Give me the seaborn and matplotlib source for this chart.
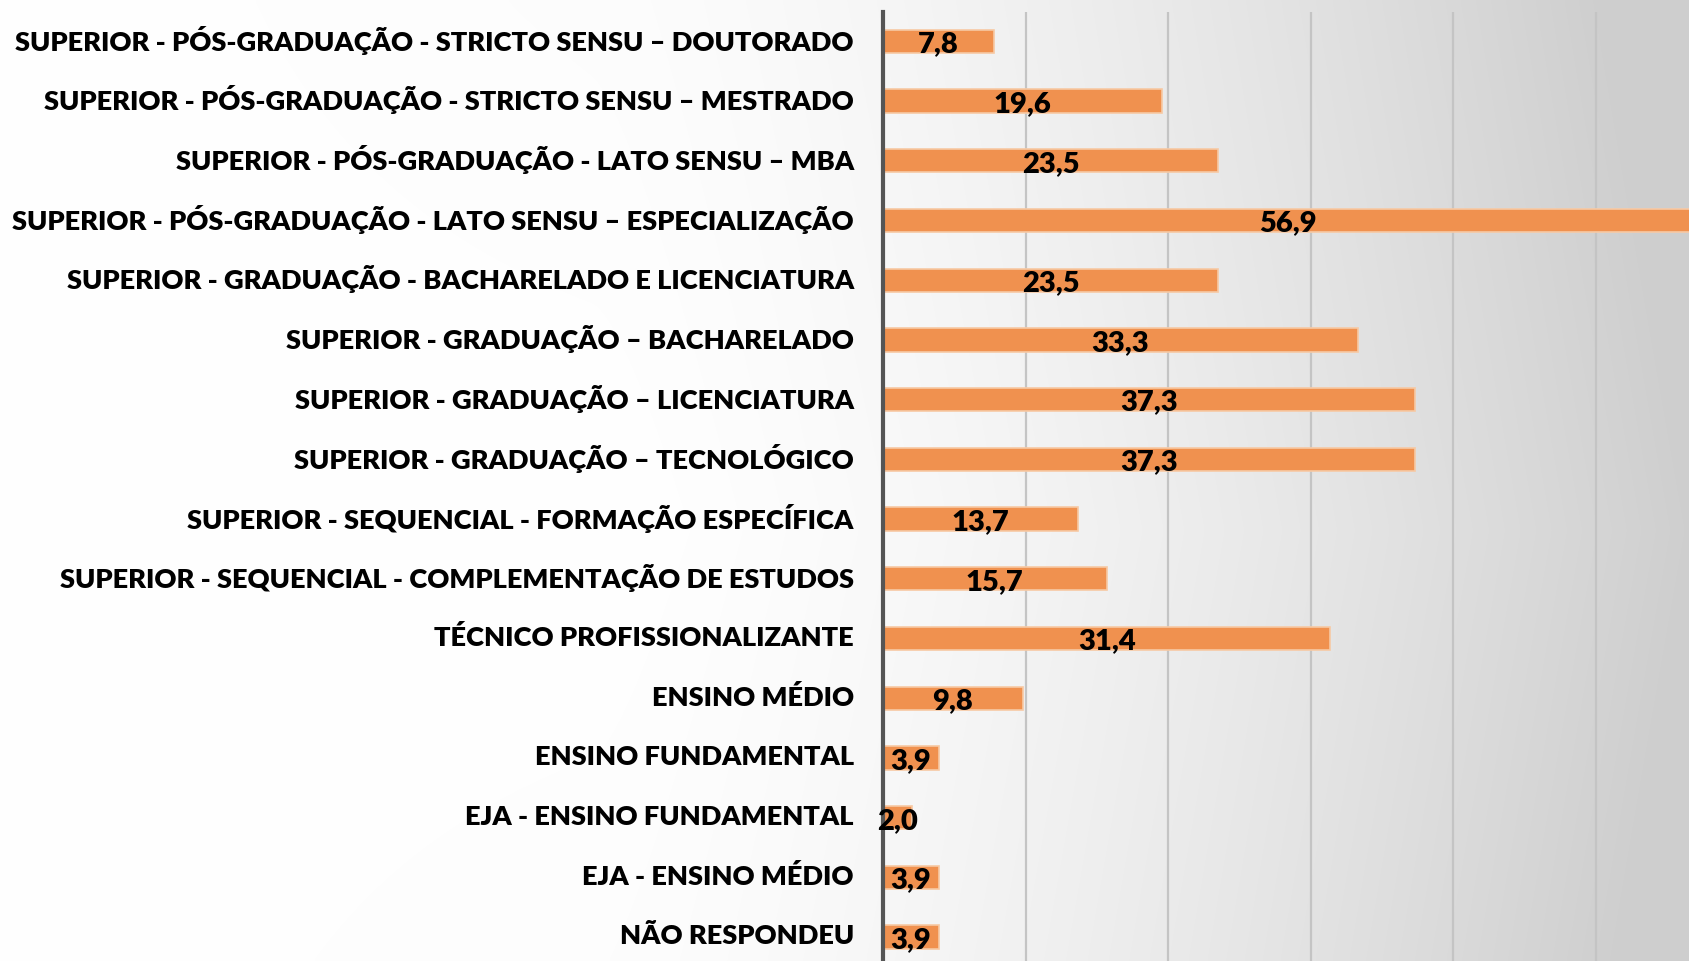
import numpy as np
import matplotlib
matplotlib.use('Agg')
import matplotlib.pyplot as plt
import matplotlib.transforms as mtransforms
import seaborn as sns

categories = [
    'SUPERIOR - PÓS-GRADUAÇÃO - STRICTO SENSU – DOUTORADO',
    'SUPERIOR - PÓS-GRADUAÇÃO - STRICTO SENSU – MESTRADO',
    'SUPERIOR - PÓS-GRADUAÇÃO - LATO SENSU – MBA',
    'SUPERIOR - PÓS-GRADUAÇÃO - LATO SENSU – ESPECIALIZAÇÃO',
    'SUPERIOR - GRADUAÇÃO - BACHARELADO E LICENCIATURA',
    'SUPERIOR - GRADUAÇÃO – BACHARELADO',
    'SUPERIOR - GRADUAÇÃO – LICENCIATURA',
    'SUPERIOR - GRADUAÇÃO – TECNOLÓGICO',
    'SUPERIOR - SEQUENCIAL - FORMAÇÃO ESPECÍFICA',
    'SUPERIOR - SEQUENCIAL - COMPLEMENTAÇÃO DE ESTUDOS',
    'TÉCNICO PROFISSIONALIZANTE',
    'ENSINO MÉDIO',
    'ENSINO FUNDAMENTAL',
    'EJA - ENSINO FUNDAMENTAL',
    'EJA - ENSINO MÉDIO',
    'NÃO RESPONDEU',
]
values = [7.8, 19.6, 23.5, 56.9, 23.5, 33.3, 37.3, 37.3, 13.7, 15.7, 31.4, 9.8, 3.9, 2.0, 3.9, 3.9]
value_labels = [f'{v:.1f}'.replace('.', ',') for v in values]

sns.set_style('white')
plt.rcParams['font.family'] = ['Lato', 'DejaVu Sans']

fig = plt.figure(figsize=(16.89, 9.61), dpi=100)

# gradient background (white on the left, grey toward the right)
bg = fig.add_axes([0, 0, 1, 1], zorder=-10)
h, w = 240, 420
yy, xx = np.mgrid[0:h, 0:w]
xn = xx / w
yn = yy / h
d = np.clip((xn - 0.35) / 0.65, 0, 1) ** 1.6 + 0.25 * np.abs(yn - 0.55) * xn
d = np.clip(d, 0, 1)
shade = 1.0 - 0.19 * d
bg.imshow(np.dstack([shade, shade, shade]), aspect='auto', extent=[0, 1, 0, 1],
          interpolation='bicubic')
bg.axis('off')

ax = fig.add_axes([883 / 1689, 0, 1 - 883 / 1689, 1 - 12 / 961])
ax.set_facecolor('none')
sns.barplot(x=values, y=categories, orient='h', color='#F0914F', width=0.39,
            saturation=1, edgecolor='#F7C9A4', linewidth=1.2, ax=ax, zorder=3)

ax.set_xlim(0, 56.56)
ax.set_ylim(15.4, -0.49)
ax.set_xticks([10, 20, 30, 40, 50])
ax.xaxis.grid(True, color='#c4c4c4', linewidth=1.6, zorder=0)
ax.set_axisbelow(True)
ax.tick_params(axis='x', bottom=False, labelbottom=False)
ax.tick_params(axis='y', left=False, pad=17.5, labelsize=19.6)
shift = mtransforms.ScaledTranslation(0, 3 / 100, fig.dpi_scale_trans)
for lbl in ax.get_yticklabels():
    lbl.set_fontweight('heavy')
    lbl.set_color('black')
    lbl.set_transform(lbl.get_transform() + shift)
for s in ['top', 'right', 'bottom']:
    ax.spines[s].set_visible(False)
ax.spines['left'].set_color('#555555')
ax.spines['left'].set_linewidth(3)
ax.spines['left'].set_zorder(5)

for i, (v, t) in enumerate(zip(values, value_labels)):
    ax.text(v / 2, i + 0.05, t, ha='center', va='center', fontsize=21,
            fontweight='heavy', color='black', zorder=6)

ax.set_xlabel('')
ax.set_ylabel('')

fig.savefig('out.png', dpi=100)
